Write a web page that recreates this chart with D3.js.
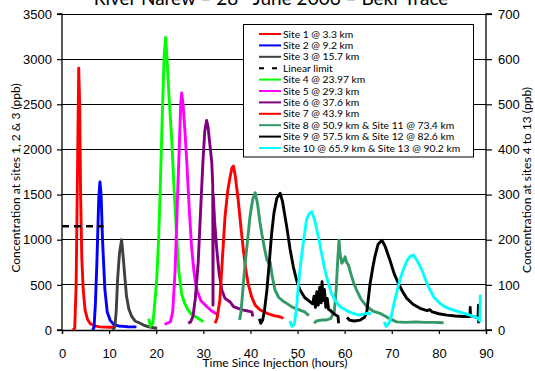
<!DOCTYPE html>
<html><head><meta charset="utf-8">
<script src="https://cdn.jsdelivr.net/npm/d3@7"></script>
<style>
body{margin:0;background:#fff;}
svg{display:block;}
</style></head>
<body>
<svg id="chart" width="535" height="371"></svg>
<script>
// ---- DATA ----
const xTicks = [0,10,20,30,40,50,60,70,80,90];
const yLeftTicks = [0,500,1000,1500,2000,2500,3000,3500];
const yRightTicks = [0,100,200,300,400,500,600,700];
const linearLimit = [[0,1150],[8.8,1150]];

// left axis series (ppb, sites 1-3)
const site1 = [[2.3,0],[2.7,20],[3.0,500],[3.3,1800],[3.55,2900],[3.75,2500],[3.95,1500],[4.2,800],[4.5,450],[4.9,220],[5.4,120],[6,70],[7,45],[8,35],[9,32],[10,30],[11,30]];
const site2 = [[6.5,0],[6.8,30],[7.1,300],[7.4,740],[7.8,1450],[8.05,1640],[8.3,1500],[8.6,1000],[9.1,450],[9.6,200],[10.2,110],[11,60],[12,45],[13,40],[14,36],[15,35],[15.8,35]];
const site3 = [[10.8,0],[11.2,30],[11.5,200],[11.8,560],[12.2,850],[12.65,1000],[13.0,800],[13.4,550],[13.7,370],[14.2,230],[14.8,150],[15.5,100],[16.6,75],[17.5,50],[18.5,35],[19.5,25],[20.2,20]];

// right axis series (ppb, sites 4-13)
const site4 = [[18.4,25],[18.8,8],[19.3,15],[19.7,60],[20.1,111],[20.5,200],[20.8,295],[21.3,480],[21.7,610],[22.0,648],[22.3,600],[22.7,520],[23.3,420],[23.8,310],[24.3,215],[24.8,130],[25.4,80],[26,60],[26.7,45],[27.5,35],[28.3,30],[29,25],[29.5,22],[30,18]];
const site5 = [[21.8,12],[22.3,15],[23.0,18],[23.5,40],[24.0,130],[24.3,221],[24.6,320],[24.9,406],[25.2,500],[25.4,525],[25.7,500],[26.1,440],[26.5,370],[27.0,270],[27.5,185],[28.0,130],[28.6,89],[29.5,65],[30.7,52],[31.8,42],[33.2,33]];
const site6 = [[26.8,15],[27.3,18],[27.8,30],[28.3,70],[28.9,148],[29.4,260],[29.9,370],[30.3,440],[30.7,464],[31.0,450],[31.4,410],[31.8,370],[32.0,320],[32.05,55],[32.1,300],[32.4,240],[32.8,185],[33.3,130],[33.9,89],[34.6,70],[35.7,62],[36.4,52],[37.4,48],[38.5,44],[39.5,42],[40.3,40],[40.5,30]];
const site7 = [[32.5,15],[32.9,25],[33.5,66],[34.0,150],[34.6,251],[35.2,310],[35.7,340],[36.1,360],[36.4,363],[36.8,340],[37.4,288],[38.0,225],[38.5,177],[39.0,135],[39.5,103],[40.2,75],[41.0,55],[42.0,45],[43.5,37],[45,32],[46,30],[47,26]];
const site8 = [[37.7,22],[38.0,40],[38.4,90],[38.8,140],[39.4,200],[39.9,251],[40.5,290],[41.0,304],[41.5,280],[42.0,240],[42.4,214],[43.0,180],[43.5,155],[43.9,148],[44.2,150],[44.6,120],[45.2,89],[46.0,72],[46.8,65],[47.7,59],[49.0,50],[50.5,44],[51.5,40],[52.4,32]];
const site9 = [[41.9,25],[42.2,15],[42.6,22],[43.0,45],[43.5,89],[44.0,150],[44.5,214],[45.0,260],[45.6,292],[46.3,303],[46.8,285],[47.2,260],[47.7,229],[48.4,180],[49.1,140],[49.8,110],[50.5,89],[51.5,72],[52.6,63],[53.2,58],[53.5,75],[53.8,50],[54.1,85],[54.4,55],[54.7,95],[55.0,60],[55.2,107],[55.4,65],[55.7,90],[56.0,50],[56.3,70],[56.6,45],[56.9,44],[57.5,38],[58.0,34],[58.6,30],[58.7,15]];
const site10 = [[48.4,20],[48.8,8],[49.3,12],[49.8,50],[50.2,103],[50.7,150],[51.2,192],[51.9,244],[52.5,258],[53.0,262],[53.6,245],[54.4,207],[55.1,170],[55.8,133],[56.5,105],[57.2,81],[58.0,65],[59.0,52],[60.4,43],[61.8,37],[63.0,33],[64.0,35],[64.7,37],[65.6,36]];
const site11 = [[53.5,15],[54.0,20],[55.0,22],[56.0,22],[57.0,25],[57.8,40],[58.2,90],[58.5,150],[58.8,199],[59.0,170],[59.4,148],[59.8,155],[60.1,162],[60.4,150],[60.8,144],[61.3,125],[61.9,105],[62.5,89],[63.5,68],[64.7,52],[66,42],[67.5,37],[69,28],[71,18],[73,17],[75,18],[77,17],[79,17],[81,16]];
const site12 = [[60.5,28],[61.0,22],[62.0,20],[63.3,22],[64.2,28],[64.7,40],[65.4,103],[66.0,140],[66.4,162],[67.1,190],[67.9,199],[68.6,185],[69.6,155],[70.5,125],[71.4,103],[72.3,85],[73.2,70],[74.5,57],[76,48],[77.5,43],[78.1,45],[78.6,40],[80,36],[81.7,33],[83.5,31],[85.2,30],[86.6,30],[86.65,50],[86.7,32],[88.3,27],[88.4,55],[88.45,15]];
const site13 = [[68.4,18],[68.8,8],[69.4,15],[70.0,35],[70.5,60],[71.0,81],[71.7,110],[72.4,133],[73.3,155],[74.0,164],[74.6,166],[75.3,155],[76.4,133],[77.2,110],[78.1,89],[79.0,72],[80.2,59],[81.5,50],[83.1,44],[85.0,38],[86.6,33],[88.3,26],[88.7,20],[88.8,78]];

const legendLabels = ["Site 1 @ 3.3 km","Site 2 @ 9.2 km","Site 3 @ 15.7 km","Linear limit","Site 4 @ 23.97 km","Site 5 @ 29.3 km","Site 6 @ 37.6 km","Site 7 @ 43.9 km","Site 8 @ 50.9 km & Site 11 @ 73.4 km","Site 9 @ 57.5 km & Site 12 @ 82.6 km","Site 10 @ 65.9 km & Site 13 @ 90.2 km"];
const legendColors = ["#ff0000","#0000ff","#404040","#000000","#00ff00","#ff00ff","#800080","#ff0000","#339966","#000000","#00ffff"];

// ---- CHART ----
const svg = d3.select("#chart");
const L = 62, R = 486, T = 14, B = 330;
const x = d3.scaleLinear().domain([0,90]).range([L,R]);
const yL = d3.scaleLinear().domain([0,3500]).range([B,T]);
const yR = d3.scaleLinear().domain([0,700]).range([B,T]);
const font = "Lato, 'DejaVu Sans', sans-serif";
const tickFont = "'Liberation Sans', Arial, sans-serif";

// gridlines
svg.append("g").selectAll("line").data(yLeftTicks.filter(d=>d>0)).join("line")
  .attr("x1",L).attr("x2",R).attr("y1",d=>yL(d)).attr("y2",d=>yL(d))
  .attr("stroke","#000").attr("stroke-width",1).attr("shape-rendering","crispEdges");

// axes
const gx = svg.append("g").attr("transform",`translate(0,${B})`)
  .call(d3.axisBottom(x).tickValues(xTicks).tickSize(4).tickPadding(15).tickFormat(d3.format("d")));
const gl = svg.append("g").attr("transform",`translate(${L},0)`)
  .call(d3.axisLeft(yL).tickValues(yLeftTicks).tickSize(5).tickPadding(5).tickFormat(d3.format("d")));
const gr = svg.append("g").attr("transform",`translate(${R},0)`)
  .call(d3.axisRight(yR).tickValues(yRightTicks).tickSize(6).tickPadding(6).tickFormat(d3.format("d")));
[gx,gl,gr].forEach(g=>{
  g.select(".domain").attr("stroke","#000").attr("stroke-width",1.3);
  g.selectAll(".tick line").attr("stroke","#000").attr("stroke-width",1.2);
  g.selectAll("text").attr("font-family",tickFont).attr("font-size",13).attr("fill","#000");
});
gl.select(".domain").attr("d",`M-5,${T}H0V${B}H-5`);
gr.select(".domain").attr("d",`M6,${T}H0V${B}H6`);

// series lines
const lineL = d3.line().x(d=>x(d[0])).y(d=>yL(d[1]));
const lineR = d3.line().x(d=>x(d[0])).y(d=>yR(d[1]));
const plot = svg.append("g");
const leftSeries = [[site1,"#ff0000"],[site2,"#0000ff"],[site3,"#404040"]];
const rightSeries = [[site4,"#00ff00"],[site5,"#ff00ff"],[site6,"#800080"],[site7,"#ff0000"],[site8,"#339966"],[site11,"#339966"],[site9,"#000000"],[site12,"#000000"],[site10,"#00ffff"],[site13,"#00ffff"]];
leftSeries.forEach(([d,c])=>plot.append("path").attr("d",lineL(d)).attr("fill","none").attr("stroke",c).attr("stroke-width",2.9).attr("stroke-linejoin","round"));
rightSeries.forEach(([d,c])=>plot.append("path").attr("d",lineR(d)).attr("fill","none").attr("stroke",c).attr("stroke-width",2.9).attr("stroke-linejoin","round"));
plot.append("path").attr("d",lineL(linearLimit)).attr("fill","none").attr("stroke","#000").attr("stroke-width",2.5).attr("stroke-dasharray","7,5");

// legend
const lg = svg.append("g");
lg.append("rect").attr("x",243.5).attr("y",24.5).attr("width",230).attr("height",132.5)
  .attr("fill","#fff").attr("stroke","#000").attr("stroke-width",1);
legendLabels.forEach((t,i)=>{
  const yy = 34 + i*11.4;
  const ln = lg.append("line").attr("x1",259).attr("x2",281).attr("y1",yy).attr("y2",yy)
    .attr("stroke",legendColors[i]).attr("stroke-width",2);
  if(t==="Linear limit") ln.attr("stroke-dasharray","5,8");
  lg.append("text").attr("x",283).attr("y",yy+3.5).text(t)
    .attr("font-family",font).attr("font-size",10.3).attr("fill","#000");
});

// titles
const title = svg.append("text").attr("x",271).attr("y",5).attr("text-anchor","middle")
  .attr("font-family",font).attr("font-size",19).attr("fill","#000");
title.append("tspan").text("River Narew – 28");
title.append("tspan").attr("font-size",11).attr("dy",-7).text("th");
title.append("tspan").attr("dy",7).text(" June 2006 – Bekr Trace");

svg.append("text").attr("x",275).attr("y",367).attr("text-anchor","middle")
  .attr("font-family",font).attr("font-size",12).text("Time Since Injection (hours)");
svg.append("text").attr("transform","translate(20,178) rotate(-90)").attr("text-anchor","middle")
  .attr("font-family",font).attr("font-size",12).text("Concentration at sites 1, 2 & 3 (ppb)");
svg.append("text").attr("transform","translate(531,180) rotate(-90)").attr("text-anchor","middle")
  .attr("font-family",font).attr("font-size",12).text("Concentration at sites 4 to 13 (ppb)");
</script>
</body></html>
